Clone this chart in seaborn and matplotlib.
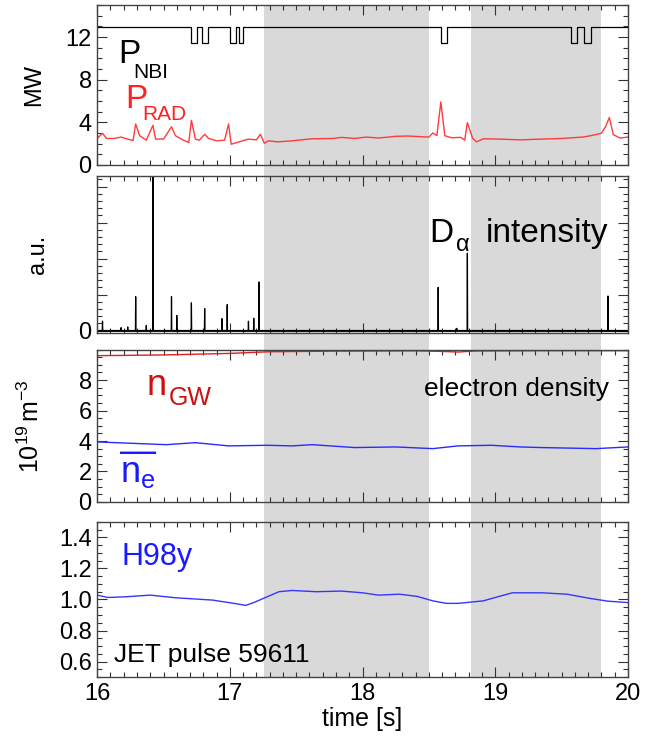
import numpy as np
import pandas as pd
import seaborn as sns
import matplotlib.pyplot as plt
from matplotlib.ticker import MultipleLocator

# === DANE ===
# P_NBI (MW): moments where the beam power changes level
t_nbi = [16.0, 16.706, 16.755, 16.793, 16.838, 17.002, 17.045, 17.065, 17.10,
         18.59, 18.64, 19.57, 19.62, 19.67, 19.72, 20.0]
p_nbi = [12.95, 11.45, 12.95, 11.45, 12.95, 11.45, 12.95, 11.45, 12.95,
         11.45, 12.95, 11.45, 12.95, 11.45, 12.95, 12.95]

# P_RAD (MW)
t_rad = [16.00, 16.04, 16.07, 16.13, 16.18, 16.23, 16.27, 16.29, 16.32, 16.37,
         16.42, 16.44, 16.50, 16.56, 16.59, 16.65, 16.69, 16.71, 16.74, 16.77,
         16.81, 16.84, 16.90, 16.96, 16.99, 17.01, 17.07, 17.14, 17.20, 17.23,
         17.26, 17.29, 17.36, 17.47, 17.62, 17.78, 17.84, 17.94, 18.03, 18.12,
         18.25, 18.34, 18.50, 18.53, 18.56, 18.59, 18.62, 18.67, 18.74, 18.77,
         18.79, 18.83, 18.86, 18.91, 19.03, 19.19, 19.35, 19.50, 19.66, 19.72,
         19.80, 19.83, 19.86, 19.89, 19.94, 20.00]
p_rad = [2.48, 2.97, 2.48, 2.48, 2.61, 2.42, 2.29, 3.84, 2.74, 2.32,
         3.71, 2.42, 2.42, 3.58, 2.74, 2.32, 2.10, 4.19, 2.42, 2.32,
         2.87, 2.48, 2.26, 2.32, 3.84, 1.94, 2.16, 2.42, 2.35, 2.87,
         2.03, 2.26, 2.16, 2.26, 2.45, 2.48, 2.58, 2.48, 2.61, 2.52,
         2.68, 2.71, 2.61, 3.00, 2.74, 5.90, 2.74, 2.55, 2.58, 2.32,
         3.97, 2.48, 2.16, 2.45, 2.42, 2.35, 2.42, 2.48, 2.61, 2.74,
         2.97, 3.55, 4.45, 2.84, 2.52, 2.61]

# D-alpha spikes (a.u.)
t_spike = [16.04, 16.18, 16.23, 16.29, 16.37, 16.42, 16.56, 16.60, 16.71, 16.81,
           16.94, 16.98, 17.14, 17.18, 17.22, 18.57, 18.71, 18.79, 19.85]
h_spike = [0.26, 0.08, 0.10, 0.94, 0.14, 5.0, 0.94, 0.42, 0.77, 0.61,
           0.33, 0.72, 0.26, 0.34, 1.35, 1.20, 0.06, 2.15, 0.96]

# gęstość elektronów (1e19 m^-3)
t_ngw = [16.0, 16.5, 17.0, 17.3, 17.8, 18.4, 18.6, 18.72, 18.85, 19.4, 20.0]
n_gw = [9.60, 9.65, 9.75, 9.86, 9.90, 9.92, 9.88, 9.84, 9.91, 9.93, 9.93]
t_ne = [16.00, 16.52, 16.74, 16.99, 17.28, 17.47, 17.62, 17.94, 18.25, 18.53,
        18.72, 18.97, 19.19, 19.35, 19.76, 20.00]
n_e = [3.94, 3.76, 3.89, 3.68, 3.72, 3.68, 3.76, 3.57, 3.61, 3.50,
       3.68, 3.72, 3.61, 3.57, 3.50, 3.61]

# H98y
t_h98 = [16.00, 16.08, 16.21, 16.40, 16.59, 16.87, 17.03, 17.12, 17.18, 17.28,
         17.37, 17.47, 17.65, 17.84, 18.00, 18.12, 18.28, 18.41, 18.53, 18.63,
         18.72, 18.91, 19.03, 19.13, 19.35, 19.54, 19.72, 19.85, 20.00]
h98 = [1.028, 1.013, 1.017, 1.028, 1.011, 0.996, 0.975, 0.962, 0.980, 1.017,
       1.050, 1.058, 1.050, 1.054, 1.043, 1.028, 1.034, 1.020, 0.991, 0.975,
       0.975, 0.991, 1.020, 1.043, 1.043, 1.034, 1.006, 0.989, 0.980]

# okna czasowe (szare pasy)
shade_windows = [(17.26, 18.50), (18.82, 19.80)]

# === STYL ===
sns.set_theme(style="ticks")
plt.rcParams["font.family"] = ["Liberation Sans", "DejaVu Sans"]
plt.rcParams["mathtext.fontset"] = "custom"
plt.rcParams["mathtext.rm"] = "Liberation Sans"
plt.rcParams["mathtext.it"] = "Liberation Sans"
plt.rcParams["axes.labelcolor"] = "black"
plt.rcParams["text.color"] = "black"

fig = plt.figure(figsize=(6.48, 7.36), dpi=100)
L, W = 0.150, 0.819
pos = [(0.776, 0.217), (0.548, 0.213), (0.318, 0.207), (0.080, 0.211)]

# tło z pasami przez wszystkie panele
bg = fig.add_axes([L, pos[3][0], W, pos[0][0] + pos[0][1] - pos[3][0]])
bg.set_xlim(16, 20)
for a, b in shade_windows:
    bg.axvspan(a, b, color="#d9d9d9", lw=0)
bg.axis("off")

axes = [fig.add_axes([L, y0, W, h]) for y0, h in pos]
for ax in axes:
    ax.set_facecolor("none")
    ax.set_xlim(16, 20)
    ax.xaxis.set_major_locator(MultipleLocator(1))
    ax.xaxis.set_minor_locator(MultipleLocator(0.1))
    ax.tick_params(which="both", direction="in", top=True, right=True,
                   color="#333333", labelcolor="black", width=0.8,
                   labelsize=17, pad=4)
    ax.tick_params(which="major", length=7)
    ax.tick_params(which="minor", length=3.5)
    for s in ax.spines.values():
        s.set_linewidth(1.0)
        s.set_color("#444444")
    ax.set_xlabel("")
    if ax is not axes[3]:
        ax.tick_params(labelbottom=False)

# === PANEL 1: moce ===
ax = axes[0]
sns.lineplot(x=t_nbi, y=p_nbi, ax=ax, color="black", lw=0.9, drawstyle="steps-post", estimator=None)
sns.lineplot(x=t_rad, y=p_rad, ax=ax, color="#ff3b3b", lw=1.0, estimator=None)
ax.set_ylim(0, 15)
ax.set_yticks([0, 4, 8, 12])
ax.yaxis.set_minor_locator(MultipleLocator(1))
ax.set_ylabel("MW", fontsize=17)
ax.yaxis.set_label_coords(-0.098, 0.5)
ax.text(16.155, 9.6, "P", fontsize=24, color="black")
ax.text(16.27, 8.2, "NBI", fontsize=15, color="black")
ax.text(16.21, 5.3, "P", fontsize=24, color="#ff2020")
ax.text(16.34, 4.2, "RAD", fontsize=15, color="#ff2020")

# === PANEL 2: D-alpha ===
ax = axes[1]
t_da, v_da = [16.0], [0.0]
for t, h in zip(t_spike, h_spike):
    t_da += [t - 0.002, t, t + 0.002]
    v_da += [0.0, h, 0.0]
t_da.append(20.0)
v_da.append(0.0)
ax.axhline(0, color="black", lw=1.3)
sns.lineplot(x=t_da, y=v_da, ax=ax, color="black", lw=0.9, estimator=None)
ax.set_ylim(-0.06, 4.3)
ax.set_yticks([0, 1, 2, 3, 4])
ax.set_yticklabels(["0", "", "", "", ""])
ax.yaxis.set_minor_locator(MultipleLocator(0.2))
ax.set_ylabel("a.u.", fontsize=17)
ax.yaxis.set_label_coords(-0.09, 0.5)
ax.text(18.50, 2.45, "D", fontsize=24, color="black")
ax.text(18.705, 2.22, "α", fontsize=17, color="black")
ax.text(18.93, 2.45, "intensity", fontsize=24, color="black")

# === PANEL 3: gęstość ===
ax = axes[2]
sns.lineplot(x=t_ngw, y=n_gw, ax=ax, color="#e02020", lw=1.0, estimator=None)
sns.lineplot(x=t_ne, y=n_e, ax=ax, color="#2a2aff", lw=1.0, estimator=None)
ax.set_ylim(0, 10)
ax.set_yticks([0, 2, 4, 6, 8])
ax.yaxis.set_minor_locator(MultipleLocator(0.5))
ax.set_ylabel(r"$10^{19}\,\mathrm{m}^{-3}$", fontsize=18)
ax.yaxis.set_label_coords(-0.1, 0.5)
ax.text(16.37, 7.0, "n", fontsize=26, color="#cc1010")
ax.text(16.54, 6.35, "GW", fontsize=18, color="#cc1010")
ax.text(19.86, 6.95, "electron density", fontsize=19, color="black", ha="right")
ax.text(16.17, 1.3, "—\n" + r"$\mathrm{n}_{\mathrm{e}}$", fontsize=26,
        color="#1a1aff", linespacing=0.45)

# === PANEL 4: H98y ===
ax = axes[3]
sns.lineplot(x=t_h98, y=h98, ax=ax, color="#3535ff", lw=1.0, estimator=None)
ax.set_ylim(0.5, 1.5)
ax.set_yticks([0.6, 0.8, 1.0, 1.2, 1.4])
ax.set_yticklabels(["0.6", "0.8", "1.0", "1.2", "1.4"])
ax.yaxis.set_minor_locator(MultipleLocator(0.05))
ax.set_xticks([16, 17, 18, 19, 20])
ax.set_xlabel("time [s]", fontsize=18, labelpad=2)
ax.set_ylabel("")
ax.text(16.18, 1.22, "H98y", fontsize=22, color="#1a1aff")
ax.text(16.13, 0.595, "JET pulse 59611", fontsize=19, color="black")

fig.savefig("out.png", dpi=100)
